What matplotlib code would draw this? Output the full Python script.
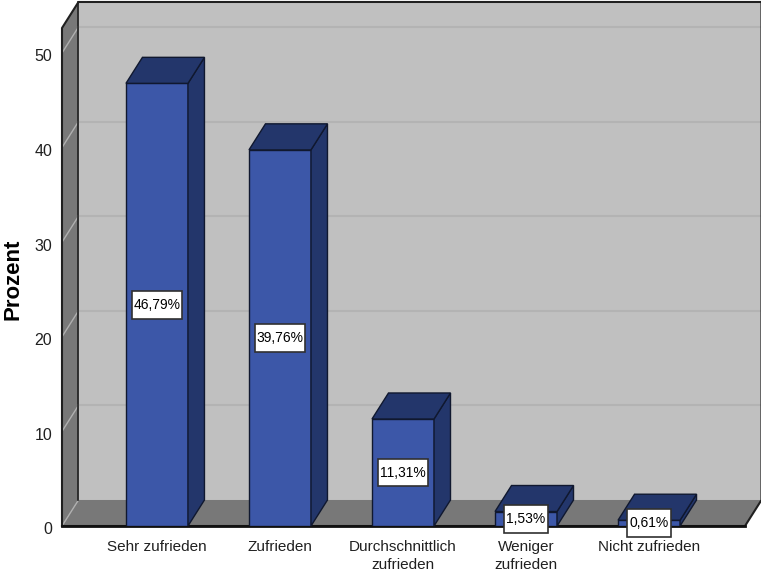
import matplotlib
matplotlib.use("Agg")
import matplotlib.pyplot as plt
from matplotlib.patches import Polygon
from matplotlib.path import Path
from matplotlib.transforms import ScaledTranslation

categories = ["Sehr zufrieden", "Zufrieden", "Durchschnittlich\nzufrieden", "Weniger\nzufrieden", "Nicht zufrieden"]
values = [46.79, 39.76, 11.31, 1.53, 0.61]
value_labels = ["46,79%", "39,76%", "11,31%", "1,53%", "0,61%"]
y_ticks = [0, 10, 20, 30, 40, 50]

plt.rcParams["font.family"] = ["Liberation Sans", "DejaVu Sans"]

W, H = 761, 578
BAR = "#3c57a8"
BAR_DARK = "#23366b"
WALL = "#c0c0c0"
SIDE = "#787878"
EDGE = "#10182f"

fig = plt.figure(figsize=(W / 100, H / 100), dpi=100)
ax = fig.add_axes([62 / W, 1 - 526 / H, (745 - 62) / W, (526 - 28) / H])

x0, x1 = -0.772, 4.78
y0, y1 = 0, 52.64
dx, dy = 0.134, 2.75   # 3d depth offset, data units
width = 0.504
ax.set_xlim(x0, x1)
ax.set_ylim(y0, y1)


def face(pts, fc, ec="none", lw=0, z=1):
    ax.add_patch(Polygon(pts, closed=True, fc=fc, ec=ec, lw=lw, zorder=z, clip_on=False, joinstyle="miter"))


def label_box(x, y, w, h, mutation_size):
    # tighter sideways than tall, plain square pad can't do that
    px, py = 0.14 * mutation_size, 0.5 * mutation_size
    l, b, r, t = x - px, y - py, x + w + px, y + h + py
    return Path([(l, b), (r, b), (r, t), (l, t), (l, b)], closed=True)


# walls and floor
face([(x0 + dx, y0 + dy), (x1 + dx, y0 + dy), (x1 + dx, y1 + dy), (x0 + dx, y1 + dy)], WALL)
face([(x0, y0), (x0 + dx, y0 + dy), (x0 + dx, y1 + dy), (x0, y1)], SIDE)
face([(x0, y0), (x1, y0), (x1 + dx, y0 + dy), (x0 + dx, y0 + dy)], SIDE)

# gridlines, on back wall and running down the side wall
for t in y_ticks:
    if t > 0:
        ax.plot([x0 + dx, x1 + dx], [t + dy, t + dy], color="#b3b3b3", lw=1.5, zorder=1.5, clip_on=False)
    ax.plot([x0, x0 + dx], [t, t + dy], color="#b0b0b0", lw=1, zorder=1.5, clip_on=False)

# wall outlines
ax.plot([x0, x0, x0 + dx, x1 + dx, x1 + dx, x1, x0], [y0, y1, y1 + dy, y1 + dy, y0 + dy, y0, y0],
        color="#202020", lw=1.5, zorder=2, clip_on=False)
ax.plot([x0 + dx, x0 + dx], [y0 + dy, y1 + dy], color="#202020", lw=1.2, zorder=2, clip_on=False)
ax.plot([x0, x1], [y0, y0], color="#101010", lw=2, zorder=2.5, clip_on=False)

# bars
xs = list(range(len(categories)))
ax.bar(xs, values, width=width, color=BAR, edgecolor=EDGE, linewidth=1, zorder=3)
for x, v in zip(xs, values):
    l, r = x - width / 2, x + width / 2
    face([(r, 0), (r + dx, dy), (r + dx, v + dy), (r, v)], BAR_DARK, EDGE, 1, 3)
    face([(l, v), (r, v), (r + dx, v + dy), (l + dx, v + dy)], BAR_DARK, EDGE, 1, 3)

# value boxes
for x, v, s in zip(xs, values, value_labels):
    ax.text(x, v / 2, s, ha="center", va="center", fontsize=10, color="black", zorder=5,
            bbox=dict(boxstyle=label_box, fc="white", ec="#303030", lw=1.2))

ax.set_xticks(xs)
ax.set_xticklabels(categories, fontsize=11, color="#202020", linespacing=1.4)
ax.set_yticks(y_ticks)
ax.set_yticklabels([str(t) for t in y_ticks], fontsize=11.5, color="#202020")
ax.tick_params(axis="x", length=0, pad=10)
ax.tick_params(axis="y", length=0, pad=7)
# tick numbers sit a little below their gridline ends
shift = ScaledTranslation(0, -2.5 / 100, fig.dpi_scale_trans)
for lab in ax.get_yticklabels():
    lab.set_transform(lab.get_transform() + shift)
for s in ax.spines.values():
    s.set_visible(False)
ax.set_ylabel("Prozent", fontsize=16, fontweight="bold")
ax.yaxis.set_label_coords(-38 / (745 - 62), (526 - 279) / (526 - 28))

fig.savefig("out.png", dpi=100)
